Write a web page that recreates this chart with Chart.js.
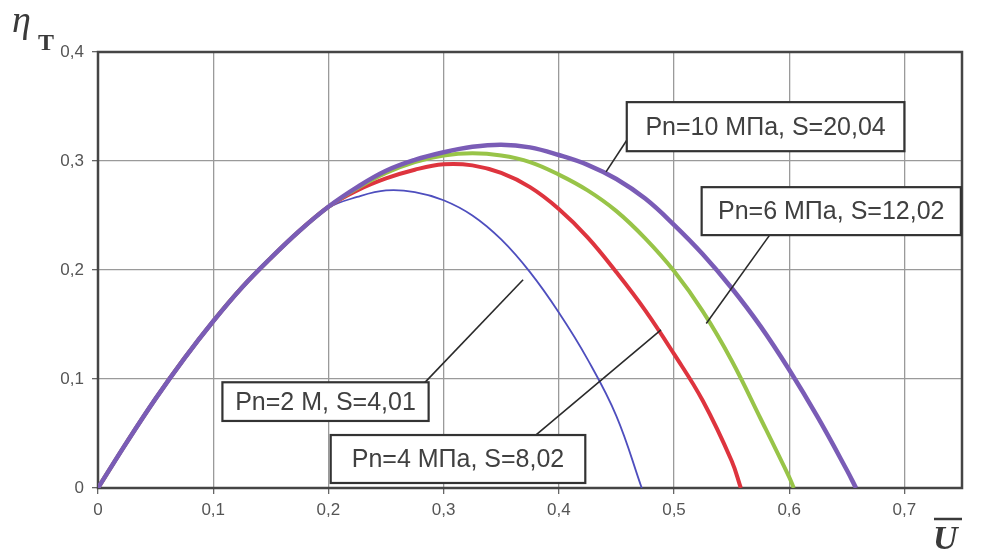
<!DOCTYPE html>
<html>
<head>
<meta charset="utf-8">
<script src="https://cdn.jsdelivr.net/npm/chart.js@4.4.1/dist/chart.umd.min.js"></script>
<style>
  html, body { margin: 0; padding: 0; background: #fff; }
  #wrap { width: 981px; height: 552px; position: relative; }
</style>
</head>
<body>
<div id="wrap"><canvas id="etaChart"></canvas></div>
<script>
// values (U, eta_T)
const u2   = [0, 0.025, 0.05, 0.075, 0.1, 0.125, 0.15, 0.175, 0.2, 0.225, 0.25, 0.275, 0.3, 0.325, 0.35, 0.375, 0.4, 0.425, 0.45, 0.472];
const eta2 = [0, 0.042, 0.082, 0.119, 0.153, 0.184, 0.211, 0.236, 0.257, 0.267, 0.273, 0.2715, 0.264, 0.25, 0.228, 0.198, 0.161, 0.118, 0.066, 0];

const u4   = [0, 0.025, 0.05, 0.075, 0.1, 0.125, 0.15, 0.175, 0.2, 0.225, 0.25, 0.275, 0.3, 0.325, 0.35, 0.375, 0.4, 0.425, 0.45, 0.475, 0.5, 0.525, 0.55, 0.558];
const eta4 = [0, 0.042, 0.082, 0.119, 0.153, 0.184, 0.211, 0.236, 0.258, 0.273, 0.284, 0.292, 0.297, 0.296, 0.289, 0.276, 0.256, 0.23, 0.198, 0.163, 0.123, 0.08, 0.025, 0];

const u6   = [0, 0.025, 0.05, 0.075, 0.1, 0.125, 0.15, 0.175, 0.2, 0.225, 0.25, 0.275, 0.3, 0.325, 0.35, 0.375, 0.4, 0.425, 0.45, 0.475, 0.5, 0.525, 0.55, 0.575, 0.6, 0.604];
const eta6 = [0, 0.042, 0.082, 0.119, 0.153, 0.184, 0.211, 0.236, 0.258, 0.275, 0.289, 0.299, 0.305, 0.307, 0.305, 0.299, 0.2875, 0.273, 0.254, 0.229, 0.199, 0.162, 0.117, 0.064, 0.01, 0];

const u10   = [0, 0.025, 0.05, 0.075, 0.1, 0.125, 0.15, 0.175, 0.2, 0.225, 0.25, 0.275, 0.3, 0.325, 0.35, 0.375, 0.4, 0.425, 0.45, 0.475, 0.5, 0.525, 0.55, 0.575, 0.6, 0.625, 0.65, 0.658];
const eta10 = [0, 0.042, 0.082, 0.119, 0.153, 0.184, 0.211, 0.236, 0.258, 0.276, 0.291, 0.301, 0.308, 0.313, 0.315, 0.3125, 0.3055, 0.2965, 0.2835, 0.2655, 0.2415, 0.2145, 0.1835, 0.1485, 0.1085, 0.0645, 0.0165, 0];

const xTicks = [0, 0.1, 0.2, 0.3, 0.4, 0.5, 0.6, 0.7];
const yTicks = [0, 0.1, 0.2, 0.3, 0.4];

// callout boxes: text, box corners and leader line in data units
const notes = [
  { text: 'Pn=10 МПа, S=20,04', box: [0.459, 0.354, 0.700, 0.309], from: [0.459, 0.319], to: [0.441, 0.290] },
  { text: 'Pn=6 МПа, S=12,02',  box: [0.524, 0.276, 0.749, 0.232], from: [0.583, 0.232], to: [0.528, 0.151] },
  { text: 'Pn=2 М, S=4,01',     box: [0.108, 0.097, 0.287, 0.0615], from: [0.283, 0.096], to: [0.369, 0.191] },
  { text: 'Pn=4 МПа, S=8,02',   box: [0.202, 0.0486, 0.423, 0.0046], from: [0.380, 0.0486], to: [0.4887, 0.145] }
];

function pts(us, es) {
  return us.map((u, i) => ({ x: u, y: es[i] }));
}

function fmt(v) {
  if (Math.abs(v) < 1e-9) return '0';
  return v.toFixed(1).replace('.', ',');
}

const tickFont = { family: "'Liberation Sans Narrow', 'Liberation Sans', Arial, sans-serif", size: 17 };

const framePlugin = {
  id: 'frame',
  beforeDatasetsDraw(chart) {
    const a = chart.chartArea, c = chart.ctx;
    c.save();
    c.strokeStyle = '#454545';
    c.lineWidth = 2.5;
    c.strokeRect(a.left, a.top, a.right - a.left, a.bottom - a.top);
    c.restore();
  }
};

const notesPlugin = {
  id: 'notes',
  afterDatasetsDraw(chart) {
    const c = chart.ctx, sx = chart.scales.x, sy = chart.scales.y;
    c.save();
    notes.forEach(n => {
      c.strokeStyle = '#2a2a2a';
      c.lineWidth = 1.6;
      c.beginPath();
      c.moveTo(sx.getPixelForValue(n.from[0]), sy.getPixelForValue(n.from[1]));
      c.lineTo(sx.getPixelForValue(n.to[0]), sy.getPixelForValue(n.to[1]));
      c.stroke();
      const x1 = sx.getPixelForValue(n.box[0]), y1 = sy.getPixelForValue(n.box[1]);
      const x2 = sx.getPixelForValue(n.box[2]), y2 = sy.getPixelForValue(n.box[3]);
      c.fillStyle = '#fff';
      c.fillRect(x1, y1, x2 - x1, y2 - y1);
      c.strokeStyle = '#333';
      c.lineWidth = 2.2;
      c.strokeRect(x1, y1, x2 - x1, y2 - y1);
      c.fillStyle = '#404040';
      c.font = "25px 'Liberation Sans', Arial, sans-serif";
      c.textAlign = 'center';
      c.textBaseline = 'middle';
      c.fillText(n.text, (x1 + x2) / 2, (y1 + y2) / 2 + 1);
    });
    c.restore();
  },
  afterDraw(chart) {
    const c = chart.ctx;
    c.save();
    c.fillStyle = '#3a3a3a';
    c.textBaseline = 'alphabetic';
    c.textAlign = 'left';
    c.font = "italic 38px 'Liberation Serif', serif";
    c.fillText('η', 12, 32);
    c.font = "bold 24px 'Liberation Serif', serif";
    c.fillText('Т', 38, 50);
    // U with overline
    c.font = "italic bold 34px 'Liberation Serif', serif";
    c.fillText('U', 933, 549);
    c.strokeStyle = '#3a3a3a';
    c.lineWidth = 2.5;
    c.beginPath();
    c.moveTo(934, 519);
    c.lineTo(962, 519);
    c.stroke();
    c.restore();
  }
};

const ctx = document.getElementById('etaChart').getContext('2d');

new Chart(ctx, {
  type: 'scatter',
  data: {
    datasets: [
      {
        label: 'Pn=10 МПа, S=20,04',
        data: pts(u10, eta10),
        showLine: true,
        borderColor: 'rgb(122, 92, 182)',
        borderWidth: 4.5,
        pointRadius: 0,
        tension: 0.4
      },
      {
        label: 'Pn=6 МПа, S=12,02',
        data: pts(u6, eta6),
        showLine: true,
        borderColor: 'rgb(152, 196, 72)',
        borderWidth: 4,
        pointRadius: 0,
        tension: 0.4
      },
      {
        label: 'Pn=4 МПа, S=8,02',
        data: pts(u4, eta4),
        showLine: true,
        borderColor: 'rgb(222, 52, 62)',
        borderWidth: 4,
        pointRadius: 0,
        tension: 0.4
      },
      {
        label: 'Pn=2 М, S=4,01',
        data: pts(u2, eta2),
        showLine: true,
        borderColor: 'rgb(78, 78, 190)',
        borderWidth: 1.8,
        pointRadius: 0,
        tension: 0.4
      }
    ]
  },
  options: {
    responsive: true,
    maintainAspectRatio: false,
    animation: false,
    devicePixelRatio: 1,
    layout: { padding: { left: 0, top: 52, right: 19, bottom: 0 } },
    plugins: {
      legend: { display: false },
      tooltip: { enabled: false }
    },
    scales: {
      x: {
        type: 'linear',
        min: 0,
        max: 0.75,
        afterBuildTicks: axis => { axis.ticks = xTicks.map(v => ({ value: v })); },
        afterFit: axis => { axis.height = 64; },
        ticks: { callback: fmt, font: tickFont, color: '#555', padding: 6, maxRotation: 0 },
        grid: { color: '#9a9a9a', lineWidth: 1.3, tickLength: 6, tickColor: '#666' },
        border: { display: false }
      },
      y: {
        type: 'linear',
        min: 0,
        max: 0.4,
        afterBuildTicks: axis => { axis.ticks = yTicks.map(v => ({ value: v })); },
        afterFit: axis => { axis.width = 98; },
        ticks: { callback: fmt, font: tickFont, color: '#555', padding: 8 },
        grid: { color: '#9a9a9a', lineWidth: 1.3, tickLength: 6, tickColor: '#666' },
        border: { display: false }
      }
    }
  },
  plugins: [framePlugin, notesPlugin]
});
</script>
</body>
</html>
